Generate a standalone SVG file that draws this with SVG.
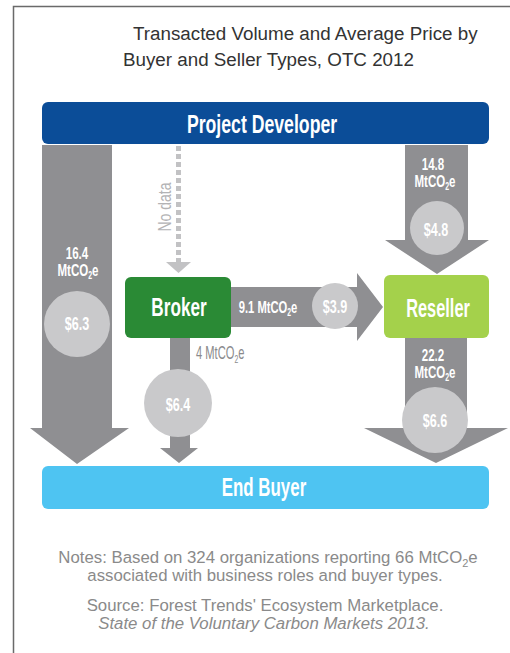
<svg xmlns="http://www.w3.org/2000/svg" width="510" height="653" viewBox="0 0 510 653">
<style>
.title{font-family:"Liberation Sans",Arial,sans-serif;font-size:18.8px;fill:#333}
.note{font-family:"Liberation Sans",Arial,sans-serif;font-size:16.8px;fill:#8a8a8a;text-anchor:middle}
.big{font-family:"Liberation Sans",Arial,sans-serif;font-weight:bold;font-size:26px;fill:#fff;text-anchor:middle}
.vol{font-family:"Liberation Sans",Arial,sans-serif;font-weight:bold;font-size:16.5px;fill:#fff;text-anchor:middle}
.price{font-family:"Liberation Sans",Arial,sans-serif;font-weight:bold;font-size:18px;fill:#fff;text-anchor:middle}
.gray{font-family:"Liberation Sans",Arial,sans-serif;font-size:18px;fill:#8a8a8c}
.arrow{fill:#8f8f92}
.circ{fill:#c9c9cb}
</style>
<rect width="510" height="653" fill="#fff"/>
<path d="M13.5 653 V6.5 H510" fill="none" stroke="#6a6a6a" stroke-width="1.5"/>
<text class="title" x="133" y="40">Transacted Volume and Average Price by</text>
<text class="title" x="123" y="66">Buyer and Seller Types, OTC 2012</text>

<g id="connectors">
  <g id="pd-endbuyer">
    <path class="arrow" d="M42 145 H112 V428 H129 L77 464 L30 428 H42 Z"/>
    <circle class="circ" cx="77" cy="324" r="33"/>
    <text class="vol" transform="translate(77,259) scale(0.7,1)">16.4</text>
    <text class="vol" transform="translate(78,276) scale(0.7,1)">MtCO<tspan font-size="10" dy="3">2</tspan><tspan dy="-3">e</tspan></text>
    <text class="price" transform="translate(77,330) scale(0.7,1)">$6.3</text>
  </g>
  <g id="pd-broker">
    <line x1="178.5" y1="146" x2="178.5" y2="262" stroke="#c2c2c4" stroke-width="5" stroke-dasharray="5,3"/>
    <path d="M166 262 H191 L178.5 273 Z" fill="#c2c2c4"/>
    <text transform="translate(171,207) rotate(-90) scale(0.78,1)" font-family="'Liberation Sans',Arial,sans-serif" font-size="18" fill="#b3b3b5" text-anchor="middle">No data</text>
  </g>
  <g id="pd-reseller">
    <path class="arrow" d="M405 145 H468 V240 H489 L437 274 L385 240 H405 Z"/>
    <circle class="circ" cx="437" cy="228" r="27"/>
    <text class="vol" transform="translate(433,170) scale(0.7,1)">14.8</text>
    <text class="vol" transform="translate(435,187) scale(0.7,1)">MtCO<tspan font-size="10" dy="3">2</tspan><tspan dy="-3">e</tspan></text>
    <text class="price" transform="translate(436,236) scale(0.7,1)">$4.8</text>
  </g>
  <g id="broker-reseller">
    <path class="arrow" d="M230 287 H357 V273 L383 307 L357 341 V327 H230 Z"/>
    <circle class="circ" cx="335" cy="306" r="23"/>
    <text class="vol" transform="translate(268,313) scale(0.68,1)">9.1 MtCO<tspan font-size="10" dy="3">2</tspan><tspan dy="-3">e</tspan></text>
    <text class="price" transform="translate(335,313) scale(0.7,1)">$3.9</text>
  </g>
  <g id="broker-endbuyer">
    <path class="arrow" d="M170 338 H190 V448 H198 L179 463 L160 448 H170 Z"/>
    <circle class="circ" cx="178" cy="403" r="34"/>
    <text class="gray" transform="translate(196,359) scale(0.62,1)">4 MtCO<tspan font-size="11" dy="4">2</tspan><tspan dy="-4">e</tspan></text>
    <text class="price" transform="translate(178,411) scale(0.7,1)">$6.4</text>
  </g>
  <g id="reseller-endbuyer">
    <path class="arrow" d="M405 338 H467 V428 H508 L436 463 L364 428 H405 Z"/>
    <circle class="circ" cx="435" cy="420" r="33"/>
    <text class="vol" transform="translate(433,361) scale(0.7,1)">22.2</text>
    <text class="vol" transform="translate(435,378) scale(0.7,1)">MtCO<tspan font-size="10" dy="3">2</tspan><tspan dy="-3">e</tspan></text>
    <text class="price" transform="translate(435,427) scale(0.7,1)">$6.6</text>
  </g>
</g>

<g id="project-developer">
  <rect x="42" y="102" width="447" height="42" rx="6" fill="#0b4d98"/>
  <text class="big" transform="translate(262,133) scale(0.68,1)">Project Developer</text>
</g>
<g id="broker">
  <rect x="125" y="277" width="106" height="61" rx="6" fill="#2a8a35"/>
  <text class="big" transform="translate(179,316) scale(0.66,1)">Broker</text>
</g>
<g id="reseller">
  <rect x="384" y="275" width="105" height="63" rx="6" fill="#a4d14b"/>
  <text class="big" transform="translate(438,317) scale(0.63,1)">Reseller</text>
</g>
<g id="end-buyer">
  <rect x="42" y="466" width="447" height="43" rx="6" fill="#4ec4f2"/>
  <text class="big" transform="translate(264,496) scale(0.65,1)">End Buyer</text>
</g>

<text class="note" x="268" y="563">Notes: Based on 324 organizations reporting 66 MtCO<tspan font-size="11" dy="4">2</tspan><tspan dy="-4">e</tspan></text>
<text class="note" x="265" y="581">associated with business roles and buyer types.</text>
<text class="note" x="265" y="611">Source: Forest Trends' Ecosystem Marketplace.</text>
<text class="note" x="264" y="629" font-style="italic">State of the Voluntary Carbon Markets 2013.</text>
</svg>
